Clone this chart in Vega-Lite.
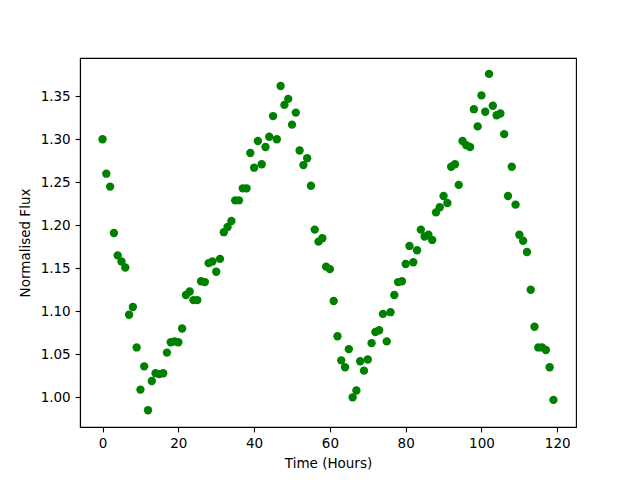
{
  "$schema": "https://vega.github.io/schema/vega-lite/v6.json",
  "width": 496,
  "height": 369,
  "autosize": {"type": "none"},
  "padding": {"left": 80, "top": 58, "right": 64, "bottom": 53},
  "background": "white",
  "config": {
    "view": {"stroke": "black", "strokeWidth": 1.1},
    "font": "DejaVu Sans",
    "axis": {
      "grid": false,
      "domainColor": "black",
      "domainWidth": 1.1,
      "tickColor": "black",
      "tickWidth": 1.1,
      "tickSize": 4.9,
      "labelPadding": 4.9,
      "labelFont": "DejaVu Sans",
      "labelFontSize": 13.5,
      "labelColor": "black",
      "titleFont": "DejaVu Sans",
      "titleFontSize": 13.5,
      "titleFontWeight": "normal",
      "titleColor": "black"
    }
  },
  "data": {
    "values": [
      {"t": 0, "f": 1.300}, {"t": 1, "f": 1.260}, {"t": 2, "f": 1.245}, {"t": 3, "f": 1.191},
      {"t": 4, "f": 1.165}, {"t": 5, "f": 1.158}, {"t": 6, "f": 1.151}, {"t": 7, "f": 1.096},
      {"t": 8, "f": 1.105}, {"t": 9, "f": 1.058}, {"t": 10, "f": 1.009}, {"t": 11, "f": 1.036},
      {"t": 12, "f": 0.985}, {"t": 13, "f": 1.019}, {"t": 14, "f": 1.028}, {"t": 15, "f": 1.027},
      {"t": 16, "f": 1.028}, {"t": 17, "f": 1.052}, {"t": 18, "f": 1.064}, {"t": 19, "f": 1.065},
      {"t": 20, "f": 1.064}, {"t": 21, "f": 1.080}, {"t": 22, "f": 1.119}, {"t": 23, "f": 1.123},
      {"t": 24, "f": 1.113}, {"t": 25, "f": 1.113}, {"t": 26, "f": 1.135}, {"t": 27, "f": 1.134},
      {"t": 28, "f": 1.156}, {"t": 29, "f": 1.158}, {"t": 30, "f": 1.146}, {"t": 31, "f": 1.161},
      {"t": 32, "f": 1.192}, {"t": 33, "f": 1.198}, {"t": 34, "f": 1.205}, {"t": 35, "f": 1.229},
      {"t": 36, "f": 1.229}, {"t": 37, "f": 1.243}, {"t": 38, "f": 1.243}, {"t": 39, "f": 1.284},
      {"t": 40, "f": 1.267}, {"t": 41, "f": 1.298}, {"t": 42, "f": 1.271}, {"t": 43, "f": 1.291},
      {"t": 44, "f": 1.303}, {"t": 45, "f": 1.327}, {"t": 46, "f": 1.300}, {"t": 47, "f": 1.362},
      {"t": 48, "f": 1.340}, {"t": 49, "f": 1.347}, {"t": 50, "f": 1.317}, {"t": 51, "f": 1.331},
      {"t": 52, "f": 1.287}, {"t": 53, "f": 1.270}, {"t": 54, "f": 1.278}, {"t": 55, "f": 1.246},
      {"t": 56, "f": 1.195}, {"t": 57, "f": 1.181}, {"t": 58, "f": 1.185}, {"t": 59, "f": 1.152},
      {"t": 60, "f": 1.149}, {"t": 61, "f": 1.112}, {"t": 62, "f": 1.071}, {"t": 63, "f": 1.043},
      {"t": 64, "f": 1.035}, {"t": 65, "f": 1.056}, {"t": 66, "f": 1.000}, {"t": 67, "f": 1.008},
      {"t": 68, "f": 1.042}, {"t": 69, "f": 1.031}, {"t": 70, "f": 1.044}, {"t": 71, "f": 1.063},
      {"t": 72, "f": 1.076}, {"t": 73, "f": 1.078}, {"t": 74, "f": 1.097}, {"t": 75, "f": 1.065},
      {"t": 76, "f": 1.099}, {"t": 77, "f": 1.119}, {"t": 78, "f": 1.134}, {"t": 79, "f": 1.135},
      {"t": 80, "f": 1.155}, {"t": 81, "f": 1.176}, {"t": 82, "f": 1.157}, {"t": 83, "f": 1.171},
      {"t": 84, "f": 1.195}, {"t": 85, "f": 1.187}, {"t": 86, "f": 1.189}, {"t": 87, "f": 1.183},
      {"t": 88, "f": 1.215}, {"t": 89, "f": 1.221}, {"t": 90, "f": 1.234}, {"t": 91, "f": 1.226},
      {"t": 92, "f": 1.268}, {"t": 93, "f": 1.271}, {"t": 94, "f": 1.247}, {"t": 95, "f": 1.298},
      {"t": 96, "f": 1.293}, {"t": 97, "f": 1.291}, {"t": 98, "f": 1.335}, {"t": 99, "f": 1.315},
      {"t": 100, "f": 1.351}, {"t": 101, "f": 1.332}, {"t": 102, "f": 1.376}, {"t": 103, "f": 1.339},
      {"t": 104, "f": 1.328}, {"t": 105, "f": 1.330}, {"t": 106, "f": 1.306}, {"t": 107, "f": 1.234},
      {"t": 108, "f": 1.268}, {"t": 109, "f": 1.224}, {"t": 110, "f": 1.189}, {"t": 111, "f": 1.182},
      {"t": 112, "f": 1.169}, {"t": 113, "f": 1.125}, {"t": 114, "f": 1.082}, {"t": 115, "f": 1.058},
      {"t": 116, "f": 1.058}, {"t": 117, "f": 1.055}, {"t": 118, "f": 1.035}, {"t": 119, "f": 0.997}
    ]
  },
  "mark": {"type": "circle", "color": "#008000", "opacity": 1, "size": 70},
  "encoding": {
    "x": {
      "field": "t",
      "type": "quantitative",
      "title": "Time (Hours)",
      "scale": {"domain": [-5.95, 124.95], "nice": false, "zero": false},
      "axis": {"values": [0, 20, 40, 60, 80, 100, 120], "titlePadding": 6}
    },
    "y": {
      "field": "f",
      "type": "quantitative",
      "title": "Normalised Flux",
      "scale": {"domain": [0.9655, 1.3945], "nice": false, "zero": false},
      "axis": {"values": [1.0, 1.05, 1.1, 1.15, 1.2, 1.25, 1.3, 1.35], "format": ".2f", "titlePadding": 8}
    }
  }
}
